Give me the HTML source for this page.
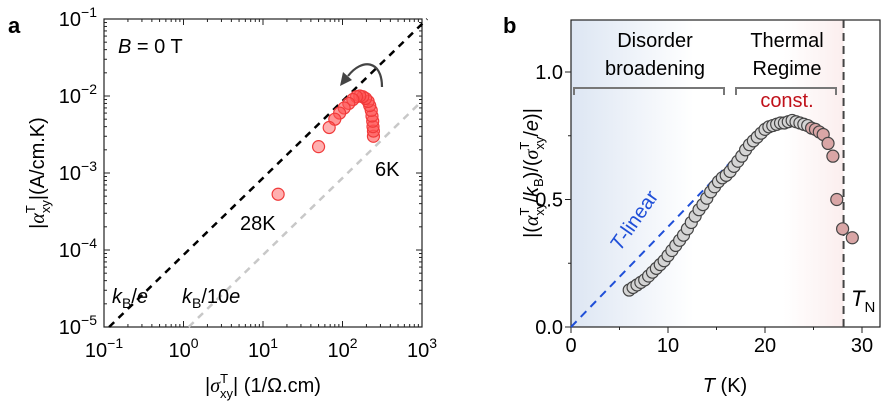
<!DOCTYPE html>
<html><head><meta charset="utf-8"><style>
body{margin:0;background:#fff;}
svg{display:block;font-family:"Liberation Sans",Arial,sans-serif;}
</style></head><body>
<svg id="fig" width="891" height="405" viewBox="0 0 891 405">
<defs>
<linearGradient id="bg" x1="0" x2="1" y1="0" y2="0">
<stop offset="0" stop-color="#dde6f3"/><stop offset="0.45" stop-color="#ffffff"/><stop offset="0.78" stop-color="#ffffff"/><stop offset="1" stop-color="#fbeeee"/>
</linearGradient>
</defs>
<text x="8" y="33" font-size="22" font-weight="bold">a</text>
<text x="503" y="33" font-size="22" font-weight="bold">b</text>
<g id="pa"></g>
<g id="pb"></g>
</svg>
<script>
// Panel a data
const aSigma = [15.5, 50, 68, 80, 92, 105, 120, 135, 150, 165, 180, 195, 210, 220, 230, 235, 240, 242, 245, 245];
const aAlpha = [5.3e-4, 2.2e-3, 3.9e-3, 5.0e-3, 6.0e-3, 7.0e-3, 8.0e-3, 9.0e-3, 9.8e-3, 1.0e-2, 9.8e-3, 9.3e-3, 8.5e-3, 7.5e-3, 6.5e-3, 5.5e-3, 4.7e-3, 4.0e-3, 3.5e-3, 3.0e-3];
const aXTicks = [-1, 0, 1, 2, 3];
const aYTicks = [-1, -2, -3, -4, -5];
// Panel b data
const bT = [6,6.4,6.8,7.2,7.6,8,8.4,8.8,9.2,9.6,10,10.4,10.8,11.2,11.6,12,12.4,12.8,13.2,13.6,14,14.4,14.8,15.2,15.6,16,16.4,16.8,17.2,17.6,18,18.4,18.8,19.2,19.6,20,20.4,20.8,21.2,21.6,22,22.4,22.8,23.2,23.6,24,24.4,24.8,25.2,25.6,26,26.5,27,27.4,28,29];
const bY = [0.145,0.155,0.165,0.175,0.185,0.2,0.215,0.23,0.245,0.26,0.28,0.3,0.32,0.34,0.36,0.385,0.41,0.435,0.46,0.48,0.505,0.53,0.55,0.57,0.585,0.595,0.61,0.63,0.65,0.67,0.695,0.715,0.73,0.745,0.76,0.775,0.785,0.79,0.795,0.80,0.80,0.805,0.81,0.805,0.80,0.795,0.79,0.78,0.775,0.765,0.755,0.72,0.67,0.50,0.385,0.35];
const bXTicks = [0,10,20,30];
const bYTicks = [0,0.5,1.0];
const bYLabels = ["0.0","0.5","1.0"];

const NS="http://www.w3.org/2000/svg";
function mk(parent,tag,attrs,name,txt){const e=document.createElementNS(NS,tag);for(const k in attrs)e.setAttribute(k,attrs[k]);


if(txt!==undefined)e.innerHTML=txt;parent.appendChild(e);return e;}
const FS=20;
// ---- Panel a ----
const pa=document.getElementById('pa');
const AX0=104,AX1=422,AY0=19,AY1=327;
const ax=v=>AX0+(Math.log10(v)+1)*(AX1-AX0)/4;
const ay=v=>AY1-(Math.log10(v)+5)*(AY1-AY0)/4;
mk(pa,'rect',{x:AX0,y:AY0,width:AX1-AX0,height:AY1-AY0,fill:'none',stroke:'#222','stroke-width':1.2},'plot-frame-a');
aXTicks.forEach(d=>{const x=ax(Math.pow(10,d));
 mk(pa,'line',{x1:x,x2:x,y1:AY1,y2:AY1-6,stroke:'#222'},'x-tick-a');
 mk(pa,'line',{x1:x,x2:x,y1:AY0,y2:AY0+6,stroke:'#222'},'x-tick-a-top');
 mk(pa,'text',{x:x,y:357,'font-size':FS,'text-anchor':'middle'},'x-tick-label-a','10<tspan dy="-9" font-size="14">'+(d<0?'−'+(-d):d)+'</tspan>');
 if(d<3)for(let m=2;m<10;m++){const xm=ax(m*Math.pow(10,d));
  mk(pa,'line',{x1:xm,x2:xm,y1:AY1,y2:AY1-3,stroke:'#222'},'x-minor-tick-a');
  mk(pa,'line',{x1:xm,x2:xm,y1:AY0,y2:AY0+3,stroke:'#222'},'x-minor-tick-a');}
});
aYTicks.forEach(d=>{const y=ay(Math.pow(10,d));
 mk(pa,'line',{x1:AX0,x2:AX0+6,y1:y,y2:y,stroke:'#222'},'y-tick-a');
 mk(pa,'line',{x1:AX1,x2:AX1-6,y1:y,y2:y,stroke:'#222'},'y-tick-a-right');
 mk(pa,'text',{x:97,y:y+7,'font-size':FS,'text-anchor':'end'},'y-tick-label-a','10<tspan dy="-9" font-size="14">−'+(-d)+'</tspan>');
});
aYTicks.slice(1).forEach(d=>{for(let m=2;m<10;m++){const ym=ay(m*Math.pow(10,d));
 mk(pa,'line',{x1:AX0,x2:AX0+3,y1:ym,y2:ym,stroke:'#222'},'y-minor-tick-a');
 mk(pa,'line',{x1:AX1,x2:AX1-3,y1:ym,y2:ym,stroke:'#222'},'y-minor-tick-a');}});
const kB=8.617e-5;
mk(pa,'line',{x1:ax(1e-5/kB),y1:ay(1e-5),x2:ax(1e-1/kB),y2:ay(1e-1),stroke:'#000','stroke-width':2.5,'stroke-dasharray':'7,6'},'kb-over-e-line');
mk(pa,'line',{x1:ax(1e-5/(kB/10)),y1:ay(1e-5),x2:ax(1e3),y2:ay(1e3*kB/10),stroke:'#c8c8c8','stroke-width':2.5,'stroke-dasharray':'7,6'},'kb-over-10e-line');
for(let i=aSigma.length-1;i>=0;i--){const op=i<3?0.45:0.6;
 mk(pa,'circle',{cx:ax(aSigma[i]),cy:ay(aAlpha[i]),r:6,fill:'rgba(255,80,80,'+op+')',stroke:'#f03a3a','stroke-width':1.2},'data-point-a');}
mk(pa,'path',{d:'M382 87 C382 60 362 58 348 76',fill:'none',stroke:'#444','stroke-width':2.2},'direction-arrow');
mk(pa,'path',{d:'M340 86 L343 72 L352 80 Z',fill:'#444'},'direction-arrowhead');
mk(pa,'text',{x:118,y:53,'font-size':FS},'b-field-label','<tspan font-style="italic">B</tspan> = 0 T');
mk(pa,'text',{x:375,y:176,'font-size':FS},'label-6k','6K');
mk(pa,'text',{x:240,y:230,'font-size':FS},'label-28k','28K');
mk(pa,'text',{x:112,y:303,'font-size':FS},'label-kb-e','<tspan font-style="italic">k</tspan><tspan font-size="14" dy="5">B</tspan><tspan dy="-5">/</tspan><tspan font-style="italic">e</tspan>');
mk(pa,'text',{x:182,y:303,'font-size':FS},'label-kb-10e','<tspan font-style="italic">k</tspan><tspan font-size="14" dy="5">B</tspan><tspan dy="-5">/10</tspan><tspan font-style="italic">e</tspan>');
mk(pa,'text',{x:263,y:392,'font-size':FS,'text-anchor':'middle'},'x-axis-title-a','|<tspan font-style="italic" font-family="Liberation Serif">σ</tspan><tspan font-size="13" dy="-9">T</tspan><tspan font-size="13" dx="-8" dy="15">xy</tspan><tspan dy="-6">| (1/Ω.cm)</tspan>');
mk(pa,'text',{x:0,y:0,'font-size':FS,'text-anchor':'middle',transform:'translate(44,173) rotate(-90)'},'y-axis-title-a','|<tspan font-style="italic" font-family="Liberation Serif">α</tspan><tspan font-size="13" dy="-9">T</tspan><tspan font-size="13" dx="-8" dy="15">xy</tspan><tspan dy="-6">|(A/cm.K)</tspan>');

// ---- Panel b ----
const pb=document.getElementById('pb');
const BX0=571,BX1=880,BY0=20,BY1=327;
const bx=v=>BX0+v*9.7;
const by=v=>BY1-v*255;
mk(pb,'rect',{x:BX0,y:BY0,width:bx(28.1)-BX0,height:BY1-BY0,fill:'url(#bg)'},'background-shading');
mk(pb,'rect',{x:BX0,y:BY0,width:BX1-BX0,height:BY1-BY0,fill:'none',stroke:'#222','stroke-width':1.2},'plot-frame-b');
bXTicks.forEach((t,i)=>{const x=bx(t);
 mk(pb,'line',{x1:x,x2:x,y1:BY1,y2:BY1+6,stroke:'#222'},'x-tick-b');
 mk(pb,'text',{x:x,y:352,'font-size':FS,'text-anchor':'middle'},'x-tick-label-b',t);});
[5,15,25].forEach(t=>mk(pb,'line',{x1:bx(t),x2:bx(t),y1:BY1,y2:BY1+3,stroke:'#222'},'x-minor-tick-b'));
bYTicks.forEach((v,i)=>{const y=by(v);
 mk(pb,'line',{x1:BX0,x2:BX0-6,y1:y,y2:y,stroke:'#222'},'y-tick-b');
 mk(pb,'text',{x:563,y:y+7,'font-size':FS,'text-anchor':'end'},'y-tick-label-b',bYLabels[i]);});
[0.25,0.75].forEach(v=>mk(pb,'line',{x1:BX0,x2:BX0-3,y1:by(v),y2:by(v),stroke:'#222'},'y-minor-tick-b'));
mk(pb,'line',{x1:bx(0),y1:by(0),x2:bx(18),y2:by(18*0.0393),stroke:'#1f4fd8','stroke-width':2,'stroke-dasharray':'8,6'},'t-linear-line');
mk(pb,'line',{x1:bx(28.1),x2:bx(28.1),y1:BY0,y2:BY1,stroke:'#444','stroke-width':2,'stroke-dasharray':'8,5'},'tn-line');
bT.forEach((t,i)=>{const red=t>=24.5;
 mk(pb,'circle',{cx:bx(t),cy:by(bY[i]),r:6,fill:red?'#d9a6a6':'#d4d4d4',stroke:'#444','stroke-width':1.2},'data-point-b');});
mk(pb,'path',{d:'M574 95 V88 H724 V95',fill:'none',stroke:'#777','stroke-width':2},'disorder-bracket');
mk(pb,'path',{d:'M736 95 V88 H836 V95',fill:'none',stroke:'#777','stroke-width':2},'thermal-bracket');
mk(pb,'text',{x:655,y:47,'font-size':FS,'text-anchor':'middle'},'disorder-label-1','Disorder');
mk(pb,'text',{x:655,y:75,'font-size':FS,'text-anchor':'middle'},'disorder-label-2','broadening');
mk(pb,'text',{x:787,y:47,'font-size':FS,'text-anchor':'middle'},'thermal-label-1','Thermal');
mk(pb,'text',{x:787,y:75,'font-size':FS,'text-anchor':'middle'},'thermal-label-2','Regime');
mk(pb,'text',{x:787,y:107,'font-size':FS,'text-anchor':'middle',fill:'#c0111a'},'const-label','const.');
mk(pb,'text',{x:0,y:0,'font-size':FS,fill:'#1f4fd8',transform:'translate(620,252) rotate(-55)'},'t-linear-label','<tspan font-style="italic">T</tspan>-linear');
mk(pb,'text',{x:851,y:306,'font-size':22},'tn-label','<tspan font-style="italic">T</tspan><tspan font-size="15" dy="6">N</tspan>');
mk(pb,'text',{x:725,y:392,'font-size':FS,'text-anchor':'middle'},'x-axis-title-b','<tspan font-style="italic">T</tspan> (K)');
mk(pb,'text',{x:0,y:0,'font-size':FS,'text-anchor':'middle',transform:'translate(538,173) rotate(-90)'},'y-axis-title-b','|(<tspan font-style="italic" font-family="Liberation Serif">α</tspan><tspan font-size="13" dy="-9">T</tspan><tspan font-size="13" dx="-8" dy="15">xy</tspan><tspan dy="-6">/</tspan><tspan font-style="italic">k</tspan><tspan font-size="13" dy="5">B</tspan><tspan dy="-5">)/(</tspan><tspan font-style="italic" font-family="Liberation Serif">σ</tspan><tspan font-size="13" dy="-9">T</tspan><tspan font-size="13" dx="-8" dy="15">xy</tspan><tspan dy="-6">/</tspan><tspan font-style="italic">e</tspan>)|');
</script>
</body></html>
